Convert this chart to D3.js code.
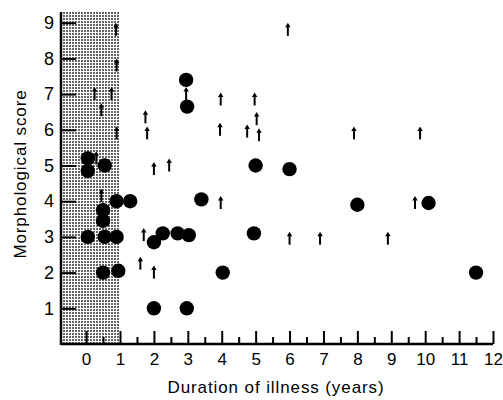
<!DOCTYPE html>
<html>
<head>
<meta charset="utf-8">
<script src="https://cdn.jsdelivr.net/npm/d3@7"></script>
<style>
  body { margin: 0; background: #fff; }
  .axis text { font-family: "Liberation Sans", Arial, sans-serif; font-size: 17px; fill: #000; }
  .axis line { stroke: #000; stroke-width: 2; }
  .label { font-family: "Liberation Sans", Arial, sans-serif; font-size: 17px; letter-spacing: 0.9px; fill: #000; }
</style>
</head>
<body>
<div id="chart"></div>
<script>
// filled circles: duration (years), morphological score
var circleX = [0.05, 0.05, 0.55, 0.5, 0.5, 0.9, 1.3, 0.05, 0.55, 0.9, 0.5, 0.95,
               2.26, 2.0, 2.7, 3.03, 4.95, 4.03, 2.0, 2.97, 3.4, 2.95, 2.98,
               5.0, 6.0, 8.0, 10.1, 11.5];
var circleY = [5.2, 4.85, 5.0, 3.75, 3.45, 4.0, 4.0, 3.0, 3.0, 3.0, 2.0, 2.05,
               3.1, 2.85, 3.1, 3.05, 3.1, 2.0, 1.0, 1.0, 4.05, 7.4, 6.65,
               5.0, 4.9, 3.9, 3.95, 2.0];

// up arrows (still rising)
var arrowX = [0.88, 0.9, 0.25, 0.75, 0.45, 0.9, 0.3, 0.45,
              1.75, 1.8, 2.0, 2.45, 3.97, 3.95, 3.97, 2.95,
              4.97, 5.03, 4.75, 5.1, 5.95, 7.9, 9.85,
              6.0, 6.9, 8.9, 9.7, 1.7, 1.6, 2.0];
var arrowY = [8.8, 7.8, 7.0, 7.0, 6.55, 5.9, 5.2, 4.15,
              6.35, 5.9, 4.9, 5.0, 6.85, 6.0, 3.95, 7.0,
              6.85, 6.3, 5.95, 5.85, 8.8, 5.9, 5.9,
              2.95, 2.95, 2.95, 3.95, 3.05, 2.25, 2.0];

var xMajor = d3.range(0, 13, 1);
var xMinor = d3.range(0.5, 12, 1);
var yTicks = d3.range(1, 10, 1);

var width = 503, height = 400;

var xScale = d3.scaleLinear().domain([-0.74, 12]).range([61, 493]);
var yScale = d3.scaleLinear().domain([0, 9.3]).range([344, 12]);

var svg = d3.select("#chart").append("svg")
  .attr("width", width).attr("height", height);

var defs = svg.append("defs");
var pat = defs.append("pattern")
  .attr("id", "dots")
  .attr("patternUnits", "userSpaceOnUse")
  .attr("width", 3).attr("height", 3);
pat.append("rect").attr("width", 3).attr("height", 3).attr("fill", "#fff");
pat.append("rect").attr("width", 2).attr("height", 2).attr("fill", "#666");

// shaded first year
svg.append("rect")
  .attr("x", xScale(-0.74))
  .attr("y", yScale(9.3))
  .attr("width", xScale(1) - xScale(-0.74))
  .attr("height", yScale(0) - yScale(9.3))
  .attr("fill", "url(#dots)");

// x axis ticks
svg.append("g")
  .attr("class", "axis")
  .attr("transform", "translate(0," + yScale(0) + ")")
  .call(d3.axisBottom(xScale).tickValues(xMinor).tickSize(-7).tickFormat(""))
  .call(function(g) { g.select(".domain").remove(); });

svg.append("g")
  .attr("class", "axis")
  .attr("transform", "translate(0," + yScale(0) + ")")
  .call(d3.axisBottom(xScale).tickValues(xMajor).tickSize(-13).tickPadding(9).tickFormat(d3.format("d")))
  .call(function(g) { g.select(".domain").remove(); });

// y axis ticks
svg.append("g")
  .attr("class", "axis")
  .attr("transform", "translate(" + xScale(-0.74) + ",0)")
  .call(d3.axisLeft(yScale).tickValues(yTicks).tickSize(-15).tickPadding(7).tickFormat(d3.format("d")))
  .call(function(g) { g.select(".domain").remove(); })
  .selectAll("text").style("font-size", "18px");

// axis lines
svg.append("line")
  .attr("x1", xScale(-0.74)).attr("x2", xScale(12))
  .attr("y1", yScale(0)).attr("y2", yScale(0))
  .attr("stroke", "#000").attr("stroke-width", 2.5);
svg.append("line")
  .attr("x1", xScale(-0.74)).attr("x2", xScale(-0.74))
  .attr("y1", yScale(9.3)).attr("y2", yScale(0) + 1)
  .attr("stroke", "#000").attr("stroke-width", 2.5);

// arrows
var arrows = svg.append("g");
arrowX.forEach(function(v, i) {
  var cx = xScale(v), cy = yScale(arrowY[i]);
  arrows.append("line")
    .attr("x1", cx).attr("x2", cx)
    .attr("y1", cy + 6).attr("y2", cy - 4)
    .attr("stroke", "#000").attr("stroke-width", 2);
  arrows.append("path")
    .attr("d", "M" + (cx - 2.7) + "," + (cy - 2.5) + "L" + cx + "," + (cy - 7) + "L" + (cx + 2.7) + "," + (cy - 2.5) + "Z")
    .attr("fill", "#000");
});

// circles
svg.append("g").selectAll("circle")
  .data(circleX).enter()
  .append("circle")
  .attr("cx", function(d) { return xScale(d); })
  .attr("cy", function(d, i) { return yScale(circleY[i]); })
  .attr("r", 7.2)
  .attr("fill", "#000");

// labels
svg.append("text")
  .attr("class", "label")
  .attr("x", 276).attr("y", 393)
  .attr("text-anchor", "middle")
  .text("Duration of illness (years)");

svg.append("text")
  .attr("class", "label")
  .attr("transform", "translate(26,174) rotate(-90)")
  .attr("text-anchor", "middle")
  .text("Morphological score");
</script>
</body>
</html>
